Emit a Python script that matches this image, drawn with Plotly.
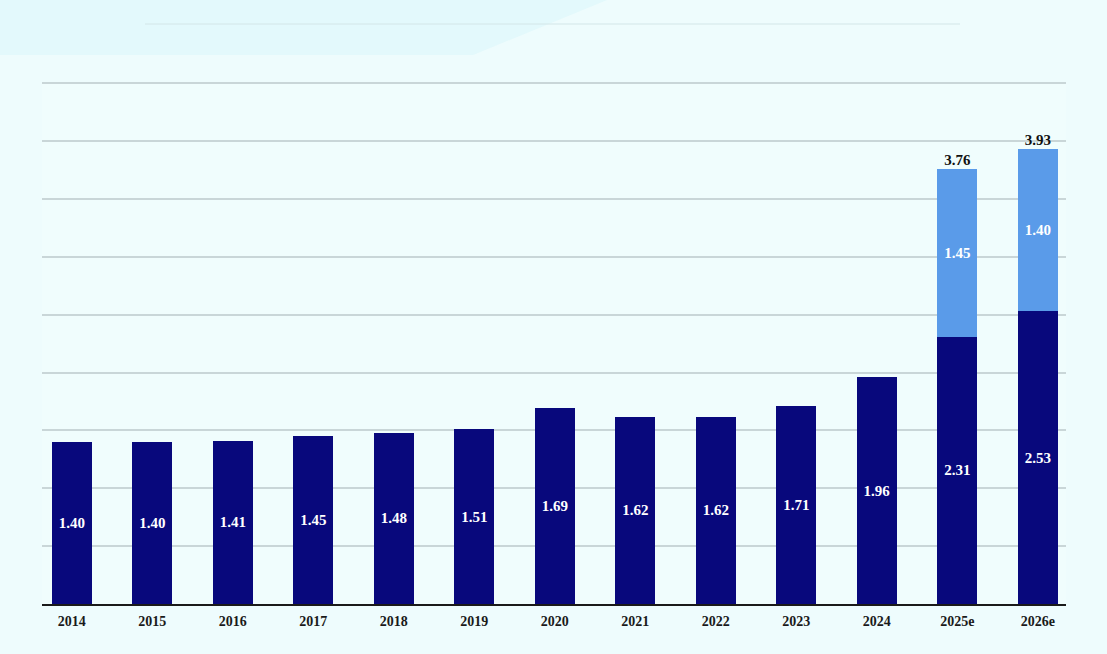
import plotly.graph_objects as go

# values
years = ["2014", "2015", "2016", "2017", "2018", "2019", "2020",
         "2021", "2022", "2023", "2024", "2025e", "2026e"]
base_vals = [1.40, 1.40, 1.41, 1.45, 1.48, 1.51, 1.69,
             1.62, 1.62, 1.71, 1.96, 2.31, 2.53]
extra_vals = [None] * 11 + [1.45, 1.40]
total_years = ["2025e", "2026e"]
total_vals = [3.76, 3.93]

navy = "#08087c"
light_blue = "#5a9be9"
bg = "#eefcfd"
serif = "Liberation Serif"

fig = go.Figure()

fig.add_trace(go.Bar(
    x=years, y=base_vals,
    marker=dict(color=navy, line=dict(width=0)),
    width=0.5,
    text=[f"{v:.2f}" for v in base_vals],
    textposition="inside", insidetextanchor="middle", textangle=0,
    textfont=dict(family=serif, size=15, color="white", weight="bold"),
    hoverinfo="skip",
))

fig.add_trace(go.Bar(
    x=years, y=extra_vals,
    marker=dict(color=light_blue, line=dict(width=0)),
    width=0.5,
    text=[f"{v:.2f}" if v is not None else "" for v in extra_vals],
    textposition="inside", insidetextanchor="middle", textangle=0,
    textfont=dict(family=serif, size=15, color="white", weight="bold"),
    hoverinfo="skip",
))

# totals above the stacked bars
fig.add_trace(go.Scatter(
    x=total_years, y=total_vals,
    mode="text",
    text=[f"{v:.2f}" for v in total_vals],
    textposition="top center",
    textfont=dict(family=serif, size=15, color="#111111", weight="bold"),
    hoverinfo="skip",
))

W, H = 1107, 654
L, R, T, B = 42, 41, 82, 50
pw, ph = W - L - R, H - T - B


def px(x):
    return (x - L) / pw


def py(y):
    return (H - B - y) / ph


fig.update_layout(
    width=W, height=H,
    margin=dict(l=L, r=R, t=T, b=B),
    barmode="stack",
    showlegend=False,
    paper_bgcolor=bg,
    plot_bgcolor="#f0fdfd",
    font=dict(family=serif),
    xaxis=dict(
        type="category",
        range=[-0.37, 12.35],
        showgrid=False,
        showline=True, linecolor="#1a1a1a", linewidth=1.5,
        ticks="",
        ticklabelstandoff=3,
        tickfont=dict(family=serif, size=14, color="#1a1a1a", weight="bold"),
        fixedrange=True,
    ),
    yaxis=dict(
        range=[0, 4.51],
        tickvals=[0.5 * i for i in range(10)],
        showgrid=True, gridcolor="#c9d6d8", gridwidth=1.5,
        showticklabels=False,
        zeroline=False,
        fixedrange=True,
    ),
    shapes=[
        # pale decorative band in the top-left corner
        dict(type="path", xref="paper", yref="paper",
             path=f"M {px(0)},{py(0)} L {px(607)},{py(0)} L {px(473)},{py(55)} L {px(0)},{py(55)} Z",
             fillcolor="rgba(205,243,248,0.35)", line=dict(width=0), layer="below"),
        # thin rule near the top
        dict(type="line", xref="paper", yref="paper",
             x0=px(145), x1=px(960), y0=py(24), y1=py(24),
             line=dict(color="#d3e6e8", width=1)),
    ],
)

fig.write_html(
    "out.html",
    config={"displayModeBar": False},
    post_script=f"document.body.style.margin='0';document.body.style.background='{bg}';",
)
